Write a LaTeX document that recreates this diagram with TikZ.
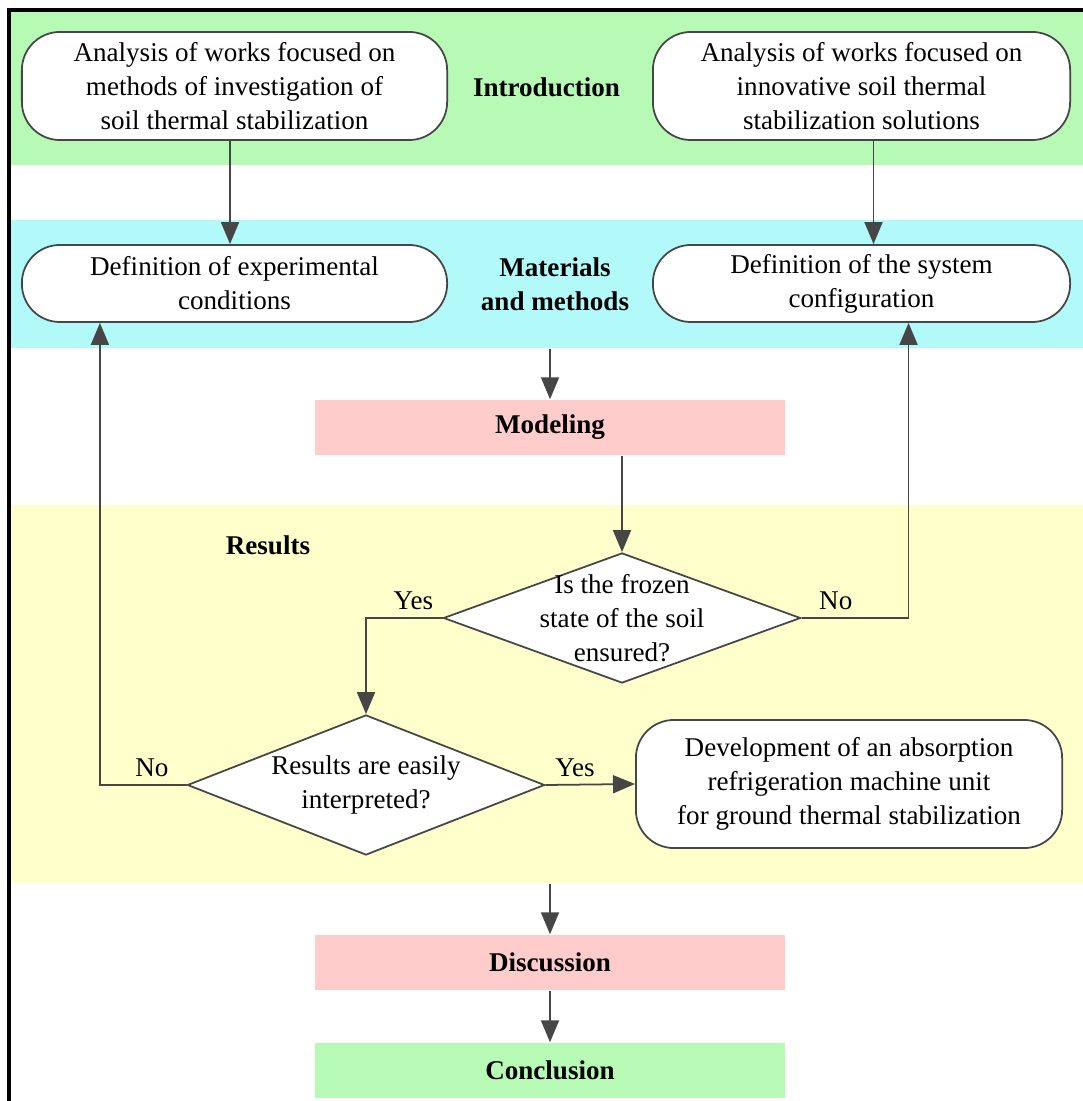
\documentclass[tikz,border=0pt]{standalone}
\usepackage{fontspec}
\setmainfont{Liberation Serif}
\usetikzlibrary{shapes.geometric,arrows.meta,positioning}

\definecolor{bandgreen}{RGB}{182,250,182}
\definecolor{bandcyan}{RGB}{178,250,250}
\definecolor{bandpink}{RGB}{255,204,204}
\definecolor{bandyellow}{RGB}{255,255,204}
\definecolor{linegray}{RGB}{70,70,70}

\newcommand{\flowfont}{\fontsize{7.7}{9.7}\selectfont}

\tikzset{
  band/.style={rectangle, inner sep=0pt, minimum width=10.73cm, align=center, font=\flowfont\bfseries},
  stage/.style={rectangle, inner sep=0pt, minimum width=4.7cm, minimum height=0.55cm, font=\flowfont\bfseries},
  roundbox/.style={rectangle, rounded corners=0.38cm, draw=linegray, line width=0.5pt, fill=white, align=center, inner sep=0pt},
  decision/.style={diamond, draw=linegray, line width=0.5pt, fill=white, align=center, inner sep=0pt},
  flow/.style={draw=linegray, line width=0.5pt, -{Triangle[width=1.8mm,length=2.2mm]}}
}

\begin{document}
\begin{tikzpicture}[x=0.01cm, y=-0.01cm, font=\flowfont]
\useasboundingbox (0,0) rectangle (1083,1101);

% coloured bands
\node[band, fill=bandgreen, minimum height=1.55cm] (intro) at (546.5,87.5) {Introduction};
\node[band, fill=bandcyan, minimum height=1.28cm] (matmeth) at (546.5,284) {\hspace*{0.17cm}Materials\\\hspace*{0.17cm}and methods};
\node[band, fill=bandyellow, minimum height=3.78cm] (results) at (546.5,694) {};
\node[font=\flowfont\bfseries] (resultslabel) at (268,545) {Results};
\node[stage, fill=bandpink] (modeling) at (550,427.5) {Modeling};
\node[stage, fill=bandpink] (discussion) at (550,962.5) {Discussion};
\node[stage, fill=bandgreen] (conclusion) at (550,1070.5) {Conclusion};

% frame
\draw[line width=0.9pt] (9,1101) |- (1083,10);

% boxes
\node[roundbox, minimum width=4.25cm, minimum height=1.08cm] (methods) at (234.5,86)
  {Analysis of works focused on\\methods of investigation of\\soil thermal stabilization};
\node[roundbox, minimum width=4.17cm, minimum height=1.08cm] (solutions) at (861.5,86)
  {Analysis of works focused on\\innovative soil thermal\\stabilization solutions};
\node[roundbox, minimum width=4.25cm, minimum height=0.77cm] (conditions) at (234.5,283.5)
  {Definition of experimental\\conditions};
\node[roundbox, minimum width=4.17cm, minimum height=0.77cm] (config) at (861.5,283.5)
  {Definition of the system\\configuration};
\node[decision, aspect=2.75, inner sep=-0.9mm, minimum width=3.57cm, minimum height=1.3cm] (frozen) at (622,618)
  {Is the frozen\\state of the soil\\ensured?};
\node[decision, aspect=2.55, minimum width=3.57cm, minimum height=1.4cm] (easy) at (366,785)
  {Results are easily\\interpreted?};
\node[roundbox, minimum width=4.26cm, minimum height=1.28cm] (unit) at (849,784)
  {Development of an absorption\\refrigeration machine unit\\for ground thermal stabilization};

% connectors
\draw[flow] ([xshift=-0.45mm]methods.south) -- ([xshift=-0.45mm]conditions.north);
\draw[flow] ([xshift=1.2mm]solutions.south) -- ([xshift=1.2mm]config.north);
\draw[flow] (matmeth.south -| modeling.north) -- (modeling.north);
\draw[flow] (modeling.south -| frozen.north) -- (frozen.north);
\draw[flow] (frozen.west) -| node[pos=0.19, above, inner sep=2pt] {Yes} (easy.north);
\draw[flow] (frozen.east) -| node[pos=0.16, above, inner sep=2pt] {No} ([xshift=4.7mm]config.south);
\draw[flow] (easy.west) -| node[pos=0.2, above, inner sep=2pt] {No} ([xshift=-13.45mm]conditions.south);
\draw[flow] (easy.east) -- node[pos=0.33, above, inner sep=2pt] {Yes} (unit.west);
\draw[flow] (results.south -| discussion.north) -- (discussion.north);
\draw[flow] (discussion) -- (conclusion);
\end{tikzpicture}
\end{document}
